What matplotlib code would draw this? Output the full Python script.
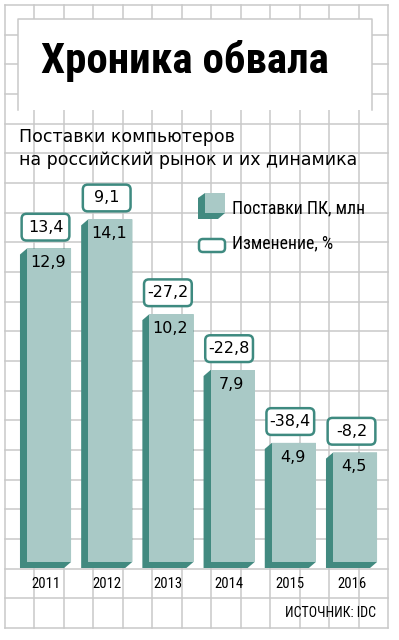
import matplotlib
matplotlib.use('Agg')
import matplotlib.pyplot as plt
from matplotlib import font_manager
from matplotlib.patches import Polygon, Rectangle, FancyBboxPatch

# data
years = ['2011', '2012', '2013', '2014', '2015', '2016']
shipments = [12.9, 14.1, 10.2, 7.9, 4.9, 4.5]          # PC shipments, mln
change = ['13,4', '9,1', '-27,2', '-22,8', '-38,4', '-8,2']  # yoy change, %

title = 'Хроника обвала'
subtitle = ['Поставки компьютеров', 'на российский рынок и их динамика']
legend_labels = ['Поставки ПК, млн', 'Изменение, %']
source = 'ИСТОЧНИК: IDC'

LIGHT = '#a9c9c6'
DARK = '#428a80'
EDGE = '#3e8a80'
GRID = '#c9c9c9'


def pick(*families):
    installed = {f.name for f in font_manager.fontManager.ttflist}
    for fam in families:
        if fam in installed:
            return fam
    return 'DejaVu Sans'


NARROW = pick('Roboto Condensed', 'Liberation Sans Narrow', 'Liberation Sans')

W, H = 399, 640
fig = plt.figure(figsize=(W / 100, H / 100), dpi=100)

# background with the grid, pixel coordinates
bg = fig.add_axes([0, 0, 1, 1])
bg.set_xlim(0, W)
bg.set_ylim(H, 0)
bg.axis('off')
for k in range(14):
    x = 5 + k * 29.46
    bg.plot([x, x], [5, 628], color=GRID, lw=1.1, zorder=1)
for k in range(22):
    y = 5 + k * 29.67
    bg.plot([5, 388], [y, y], color=GRID, lw=1.1, zorder=1)

# title box
bg.add_patch(Rectangle((18, 19), 354, 91, facecolor='white', edgecolor='none', zorder=2))
bg.plot([18, 18, 372, 372], [110, 19, 19, 110], color=GRID, lw=1.1, zorder=3)
bg.text(185, 73, title, fontsize=31, fontweight='black', ha='center', va='baseline',
        family=NARROW, zorder=4)

bg.text(19, 142, subtitle[0], fontsize=12.5, ha='left', va='baseline', zorder=4)
bg.text(19, 165, subtitle[1], fontsize=12.5, ha='left', va='baseline', zorder=4)

# legend
lx0, lx1, ly0, ly1 = 205, 225, 193, 213
bg.add_patch(Polygon([(lx0 - 7, ly0 + 5), (lx0, ly0), (lx1, ly0), (lx1, ly1),
                      (lx1 - 7, ly1 + 6), (lx0 - 7, ly1 + 6)],
                     closed=True, facecolor=DARK, edgecolor='none', zorder=4))
bg.add_patch(Rectangle((lx0, ly0), lx1 - lx0, ly1 - ly0, facecolor=LIGHT, edgecolor='none', zorder=5))
bg.add_patch(FancyBboxPatch((199, 239), 26, 13, boxstyle='round,pad=0,rounding_size=4',
                            facecolor='white', edgecolor=EDGE, lw=1.8, zorder=4))
bg.text(232, 213, legend_labels[0], fontsize=12.8, family=NARROW, ha='left', va='baseline', zorder=5)
bg.text(232, 248, legend_labels[1], fontsize=12.8, family=NARROW, ha='left', va='baseline', zorder=5)

bg.text(376, 617, source, fontsize=10, family=NARROW, ha='right', va='baseline', zorder=5)

# bars axis: one category = 61.2 px, one mln = 24.3 px
ax = fig.add_axes([0, 0, 1, 1], zorder=2)
ax.set_xlim(-49 / 61.2, (W - 49) / 61.2)
ax.set_ylim(-78 / 24.3, (H - 78) / 24.3)
ax.patch.set_alpha(0)
ax.axis('off')

bw = 0.72            # front face width
dx = 7 / 61.2        # extrusion offsets
dy = 6 / 24.3
for i, v in enumerate(shipments):
    x0, x1 = i - bw / 2, i + bw / 2
    side = Polygon([(x0 - dx, v - dy), (x0, v), (x1, v), (x1, 0),
                    (x1 - dx, -dy), (x0 - dx, -dy)],
                   closed=True, facecolor=DARK, edgecolor='none', zorder=2)
    ax.add_patch(side)
    ax.add_patch(Rectangle((x0, 0), bw, v, facecolor=LIGHT, edgecolor='none', zorder=3))
    ax.text(i - 0.02, v - 0.58, f'{v:.1f}'.replace('.', ','), fontsize=11.5,
            ha='center', va='center', zorder=4)

    # change box above the bar
    cx = i - dx / 2
    bwid, bh = 0.78, 1.1
    by = v + 0.33
    ax.add_patch(FancyBboxPatch((cx - bwid / 2, by), bwid, bh,
                                boxstyle='round,pad=0,rounding_size=0.08',
                                mutation_aspect=61.2 / 24.3,
                                facecolor='white', edgecolor=EDGE, lw=1.8, zorder=4))
    ax.text(cx, by + bh / 2, change[i], fontsize=11.5, ha='center', va='center', zorder=5)

    ax.text(cx, -0.86 - 0.05, years[i], fontsize=10.5, family=NARROW,
            ha='center', va='center', zorder=5)

fig.savefig('out.png', dpi=100, facecolor='white')
